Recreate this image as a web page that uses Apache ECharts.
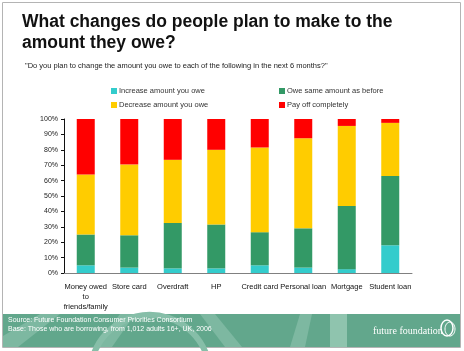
<!DOCTYPE html>
<html>
<head>
<meta charset="utf-8">
<script src="https://cdn.jsdelivr.net/npm/echarts@6/dist/echarts.min.js"></script>
<style>
  html, body { margin: 0; padding: 0; background: #fff; }
  #chart { width: 464px; height: 351px; }
</style>
</head>
<body>
<div id="chart"></div>
<script>
// categories and shares (%)
const categories = ['Money owed\nto\nfriends/family', 'Store card', 'Overdraft', 'HP',
  'Credit card', 'Personal loan', 'Mortgage', 'Student loan']
const increaseOwe = [5, 3.5, 3, 3, 5, 3.5, 2.5, 18]
const owesame = [20, 21, 29.5, 28.5, 21.5, 25.5, 41, 45]
const decreaseOwe = [39, 46, 41, 48.5, 55, 58.5, 52, 34.5]
const payOff = [36, 29.5, 26.5, 20, 18.5, 12.5, 4.5, 2.5]
const seriesNames = ['Increase amount you owe', 'Owe same amount as before',
  'Decrease amount you owe', 'Pay off completely']
const colors = ['#33cccc', '#339966', '#ffcc00', '#ff0000']

const font = 'Liberation Sans, Arial, sans-serif'
const chart = echarts.init(document.getElementById('chart'))

// one legend per entry so they sit in a 2x2 grid
function legendAt(name, left, top) {
  return {
    data: [name], left: left, top: top,
    itemWidth: 6, itemHeight: 6, itemGap: 0, padding: 0,
    icon: 'rect',
    textStyle: { fontSize: 7.5, color: '#333', fontFamily: font, padding: [0, 0, 0, -3] }
  }
}

const option = {
  animation: false,
  color: colors,
  title: [
    {
      text: 'What changes do people plan to make to the\namount they owe?',
      left: 22, top: 12, padding: 0,
      textStyle: { fontSize: 17.5, fontWeight: 'bold', lineHeight: 21, color: '#111', fontFamily: font }
    },
    {
      text: '"Do you plan to change the amount you owe to each of the following in the next 6 months?"',
      left: 25, top: 62, padding: 0,
      textStyle: { fontSize: 7.5, fontWeight: 'normal', color: '#222', fontFamily: font }
    }
  ],
  legend: [
    legendAt(seriesNames[0], 111, 87),
    legendAt(seriesNames[1], 279, 87),
    legendAt(seriesNames[2], 111, 101),
    legendAt(seriesNames[3], 279, 101)
  ],
  grid: { left: 64, right: 52, top: 119, bottom: 78 },
  xAxis: {
    type: 'category',
    data: categories,
    axisLine: { lineStyle: { color: '#808080', width: 1 } },
    axisTick: { show: false },
    axisLabel: { fontSize: 7.5, color: '#111', fontFamily: font, margin: 9, lineHeight: 10, interval: 0 }
  },
  yAxis: {
    type: 'value',
    min: 0, max: 100, interval: 10,
    axisLine: { show: true, lineStyle: { color: '#111', width: 1 } },
    axisTick: { show: true, length: 3, lineStyle: { color: '#111' } },
    splitLine: { show: false },
    axisLabel: { formatter: '{value}%', fontSize: 7, color: '#222', fontFamily: font, margin: 6 }
  },
  series: [increaseOwe, owesame, decreaseOwe, payOff].map((d, i) => ({
    name: seriesNames[i],
    type: 'bar',
    stack: 'total',
    data: d,
    barWidth: 18
  })),
  graphic: [
    { type: 'rect', shape: { x: 2.5, y: 2.5, width: 458, height: 345 }, style: { fill: 'none', stroke: '#b4b4b4', lineWidth: 1 }, z: 0 },
    { type: 'rect', shape: { x: 3, y: 314, width: 457, height: 33 }, style: { fill: '#62a78c' }, z: 1 },
    { type: 'polygon', shape: { points: [[3, 336], [40, 314], [60, 314], [18, 347], [3, 347]] }, style: { fill: '#7db8a1' }, z: 1 },
    { type: 'polygon', shape: { points: [[95, 347], [120, 314], [135, 314], [112, 347]] }, style: { fill: '#7db8a1' }, z: 1 },
    { type: 'polygon', shape: { points: [[225, 347], [200, 314], [215, 314], [242, 347]] }, style: { fill: '#7db8a1' }, z: 1 },
    { type: 'arc', shape: { cx: 150, cy: 375, r: 60, startAngle: Math.PI * 1.1, endAngle: Math.PI * 1.9 }, style: { stroke: '#86bea8', lineWidth: 6, fill: 'none' }, z: 1 },
    { type: 'polygon', shape: { points: [[290, 347], [300, 314], [312, 314], [305, 347]] }, style: { fill: '#7db8a1' }, z: 1 },
    { type: 'rect', shape: { x: 330, y: 314, width: 17, height: 33 }, style: { fill: '#8fc4ae' }, z: 1 },
    {
      type: 'text', left: 8, top: 316, z: 2,
      style: { text: 'Source: Future Foundation Consumer Priorities Consortium\nBase: Those who are borrowing, from 1,012 adults 16+, UK, 2006', fill: '#fff', font: '7px ' + font, lineHeight: 9 }
    },
    {
      type: 'text', left: 373, top: 326, z: 2,
      style: { text: 'future foundation', fill: '#fff', font: '10px Liberation Serif, serif' }
    },
    { type: 'ellipse', shape: { cx: 447, cy: 328, rx: 6, ry: 8 }, style: { stroke: '#fff', lineWidth: 1.5, fill: 'none' }, z: 2 },
    { type: 'ellipse', shape: { cx: 450, cy: 329, rx: 5, ry: 7 }, style: { stroke: '#fff', lineWidth: 1, fill: 'none' }, z: 2 }
  ]
}

chart.setOption(option)
</script>
</body>
</html>
